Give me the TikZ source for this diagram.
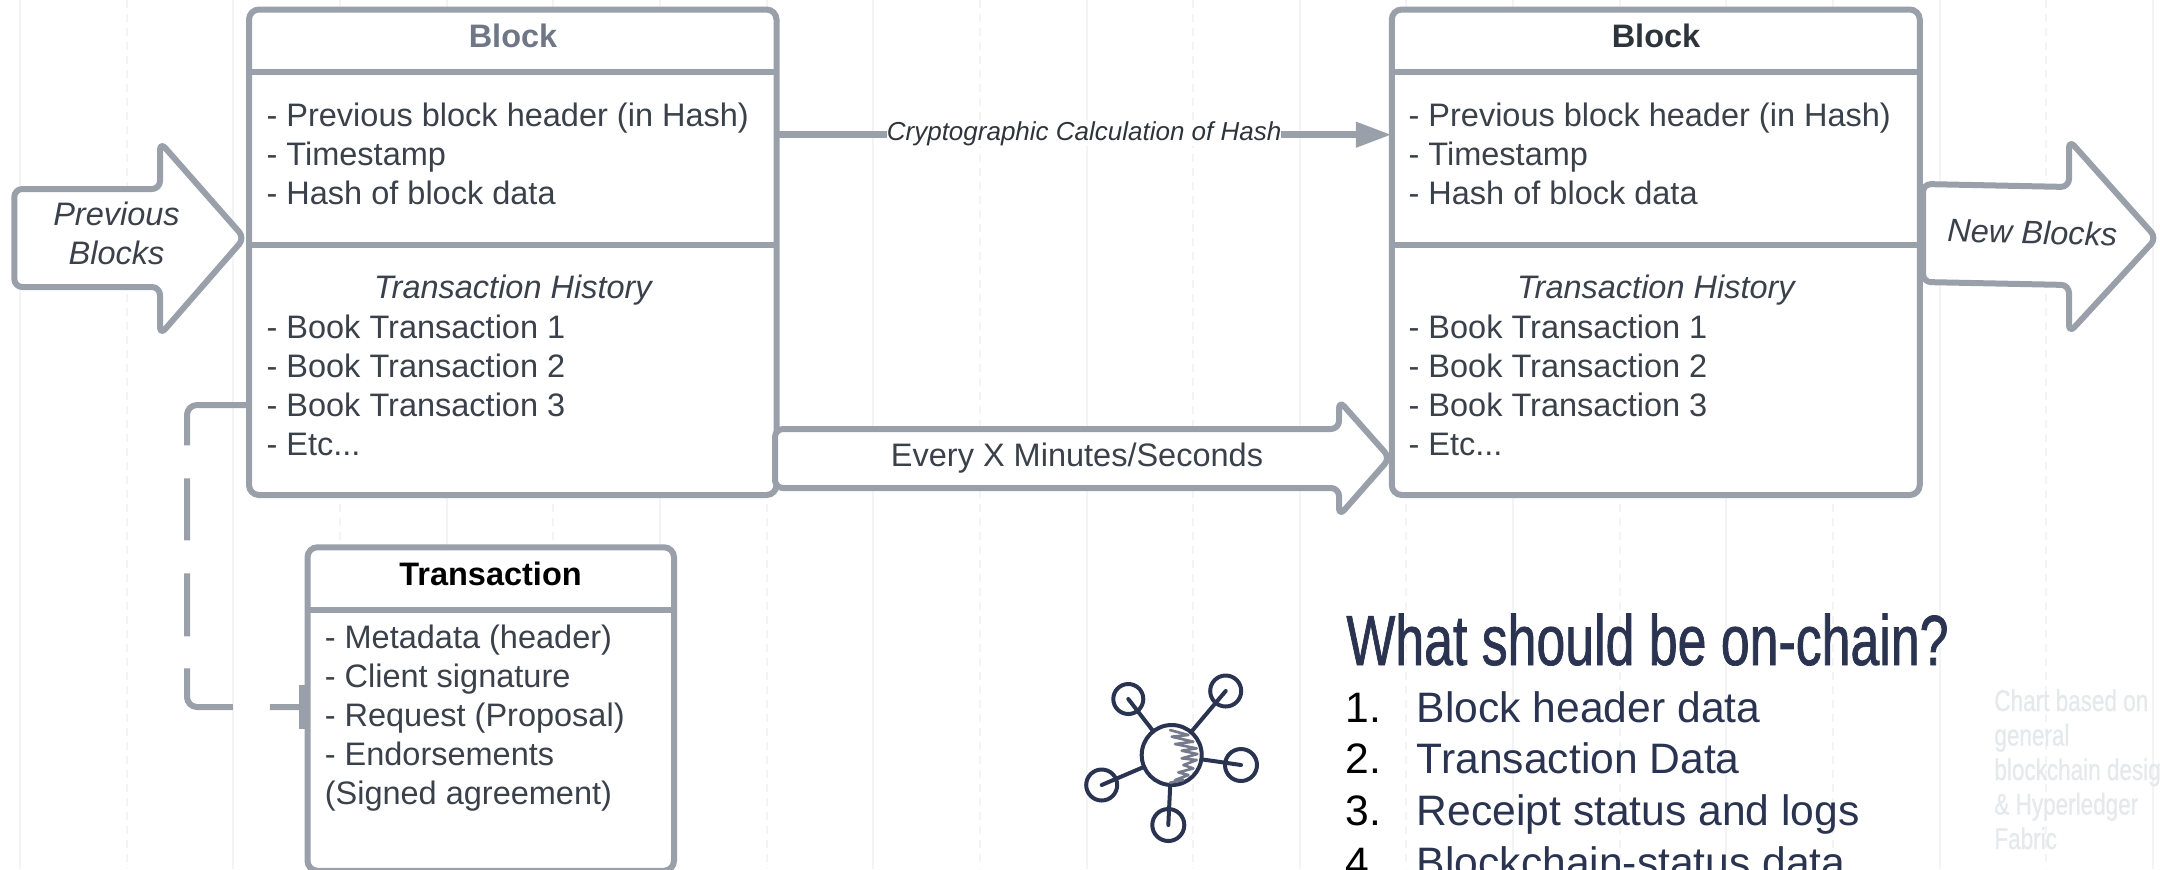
\documentclass[tikz,border=0pt]{standalone}
\usepackage{fontspec}
\setmainfont{Liberation Sans}
\newfontfamily\condfont[FakeStretch=0.75,FakeBold=0.6]{Liberation Sans}
\newfontfamily\condbold[FakeStretch=0.73,FakeBold=1]{Liberation Sans}
\usetikzlibrary{arrows.meta,calc}
\definecolor{strokegray}{HTML}{9AA0AA}
\definecolor{inkgray}{HTML}{3A414A}
\definecolor{fadedtitle}{HTML}{6F7686}
\definecolor{navyink}{HTML}{2A3450}
\definecolor{gridline}{HTML}{F3F4F6}
\definecolor{notegray}{HTML}{E6E8EB}
\tikzset{
  x=0.5pt,y=-0.5pt,
  gridsolid/.style={draw=gridline,line width=1pt},
  griddash/.style={draw=gridline,line width=1pt,dash pattern=on 4pt off 3pt},
  box/.style={draw=strokegray,fill=white,line width=3pt,rounded corners=5pt,inner sep=0pt,outer sep=0pt},
  rule/.style={draw=strokegray,line width=3pt},
  bigarrow/.style={draw=strokegray,fill=white,line width=3pt,rounded corners=4pt,line join=round},
  body/.style={font=\fontsize{16.25}{19.5}\selectfont,text=inkgray,inner sep=0pt,outer sep=0pt},
  listing/.style={body,anchor=north west,align=left},
  heading/.style={font=\fontsize{16.25}{19.5}\selectfont\bfseries,inner sep=0pt,outer sep=0pt,anchor=base},
  centered/.style={body,anchor=base},
  bullet/.style={font=\fontsize{21.3}{25.6}\selectfont,inner sep=0pt,anchor=base west},
  iconline/.style={draw=navyink,line width=2pt,line cap=round,line join=round},
  sat/.style={circle,iconline,fill=none,minimum size=15.5pt,inner sep=0pt,outer sep=0pt},
}
\begin{document}
\begin{tikzpicture}
\fill[white] (0,0) rectangle (2160,869);
\useasboundingbox (0,0) rectangle (2160,869);
\clip (0,0) rectangle (2160,869);
% grid
\foreach \k in {0,2,...,20} \draw[gridsolid] ({20+106.65*\k},0) -- ({20+106.65*\k},869);
\foreach \k in {1,3,...,19} \draw[griddash] ({20+106.65*\k},0) -- ({20+106.65*\k},869);
% blocks
\node[box,minimum width=263.75pt,minimum height=242.75pt] (blockA) at (512.75,252.25) {};
\node[box,minimum width=264pt,minimum height=242.75pt] (blockB) at (1655.75,252.25) {};
\coordinate (headY) at (0,72);
\coordinate (midY) at (0,244.5);
\draw[rule] (blockA.west |- headY) -- (blockA.east |- headY);
\draw[rule] (blockA.west |- midY) -- (blockA.east |- midY);
\draw[rule] (blockB.west |- headY) -- (blockB.east |- headY);
\draw[rule] (blockB.west |- midY) -- (blockB.east |- midY);
\node[heading,text=fadedtitle] (titleA) at (513,47.5) {Block};
\node[heading,text=inkgray!80!black] (titleB) at (1656,47.5) {Block};
\node[listing] (headA) at (266.6,98.9) {\strut- Previous block header (in Hash)\\- Timestamp\\- Hash of block data};
\node[listing] (headB) at (1408.6,98.9) {\strut- Previous block header (in Hash)\\- Timestamp\\- Hash of block data};
\node[centered] (histA) at (513,298.5) {\itshape Transaction History};
\node[centered] (histB) at (1656,298.5) {\itshape Transaction History};
\node[listing] (bookA) at (266.6,311) {\strut- Book Transaction 1\\- Book Transaction 2\\- Book Transaction 3\\- Etc...};
\node[listing] (bookB) at (1408.6,311) {\strut- Book Transaction 1\\- Book Transaction 2\\- Book Transaction 3\\- Etc...};
% transaction
\node[box,minimum width=183.25pt,minimum height=161.75pt] (txn) at (490.75,709) {};
\coordinate (txnY) at (0,609.5);
\draw[rule] (txn.west |- txnY) -- (txn.east |- txnY);
\node[heading,text=black] (txnTitle) at (490.5,585.5) {Transaction};
\node[listing] (txnBody) at (324.8,621.6) {\strut- Metadata (header)\\- Client signature\\- Request (Proposal)\\- Endorsements\\(Signed agreement)};
% dashed link
\coordinate (linkTop) at (0,405);
\coordinate (linkBot) at (0,707);
\coordinate (linkX) at (187,0);
\draw[strokegray,line width=3pt,rounded corners=5pt,
  dash pattern=on 49pt off 16.5pt on 31pt off 16.5pt on 31.5pt off 16pt on 40pt off 18.5pt on 40pt off 0pt]
  (blockA.west |- linkTop) -- (linkX |- linkTop) -- (linkX |- linkBot) -- (txn.west |- linkBot);
\fill[strokegray] ($(txn.west |- linkBot)+(-4.45pt,-11pt)$) rectangle ($(txn.west |- linkBot)+(-1.45pt,11pt)$);
% hash arrow
\coordinate (hashY) at (0,134.7);
\draw[strokegray,line width=3.7pt,-{Triangle[length=18pt,width=12pt]}]
  (blockA.east |- hashY) -- (blockB.west |- hashY)
  node[pos=0.5,fill=white,inner sep=0pt,font=\fontsize{13}{15}\selectfont\itshape,text=inkgray!80!black,yshift=0.5pt] (hashLabel) {Cryptographic Calculation of Hash};
% big arrows
\draw[bigarrow] (14.3,238) -- (14.3,189) -- (160,189) -- (160,142) -- (244.5,238) -- (160,335) -- (160,287) -- (14.3,287) -- cycle;
\node[centered,align=center,anchor=base] (prevLabel1) at (116.5,225.5) {\itshape Previous};
\node[centered,align=center,anchor=base] (prevLabel2) at (116.5,264.5) {\itshape Blocks};
\draw[bigarrow] (775,458) -- (775,429) -- (1339,429) -- (1339,400.5) -- (1390,458) -- (1339,516) -- (1339,488) -- (775,488) -- cycle;
\node[centered] (everyLabel) at (1077,466) {Every X Minutes/Seconds};
\draw[bigarrow] (1923,233) -- (1923,184) -- (2069,187) -- (2069,140) -- (2156.5,238) -- (2069,333) -- (2069,285) -- (1923,282) -- cycle;
\node[centered,rotate=-1.5] (newLabel) at (2032,244) {\itshape New Blocks};
% icon
\node[circle,iconline,minimum size=30pt,inner sep=0pt,outer sep=0pt] (hub) at (1171.7,755) {};
\node[sat,minimum size=15pt] (satTL) at (1128.3,699) {};
\node[sat] (satTR) at (1225.7,691) {};
\node[sat,minimum size=16pt] (satR) at (1241,765) {};
\node[sat,minimum size=16pt] (satB) at (1168.3,825) {};
\node[sat] (satL) at (1101.7,785) {};
\draw[iconline] (hub) -- (satTL.center);
\draw[iconline] (hub) -- (satTR.center);
\draw[iconline] (hub) -- (satR.center);
\draw[iconline] (hub) -- (satB.center);
\draw[iconline] (hub) -- (satL.center);
\begin{scope}[shift={(1060,640)},x=0.1667pt,y=-0.1667pt]
\draw[navyink!65,line width=1.3pt,line join=round,line cap=round]
 (330,270) -- (385,285) -- (335,290) -- (400,305) -- (345,312) -- (410,325) -- (365,332) -- (412,342) -- (365,355) -- (410,360) -- (370,375) -- (400,385) -- (355,397) -- (385,405) -- (345,420) -- (370,420) -- (330,428);
\end{scope}
% text right
\node[font=\condbold\fontsize{35.5}{40}\selectfont,text=navyink,inner sep=0pt,anchor=base west] (question) at (1346,665) {What should be on-chain?};
\node[bullet,text=black] (n1) at (1345,722.5) {1.};
\node[bullet,text=black] (n2) at (1345,773.5) {2.};
\node[bullet,text=black] (n3) at (1345,825) {3.};
\node[bullet,text=black] (n4) at (1345,877) {4.};
\node[bullet,text=navyink] (t1) at (1416.5,722.5) {Block header data};
\node[bullet,text=navyink] (t2) at (1416.5,773.5) {Transaction Data};
\node[bullet,text=navyink] (t3) at (1416.5,825) {Receipt status and logs};
\node[bullet,text=navyink] (t4) at (1416.5,877) {Blockchain-status data};
\node[font=\condfont\fontsize{15}{17.25}\selectfont,text=notegray,inner sep=0pt,anchor=north west,align=left] (note) at (1994,686.5) {\strut Chart based on\\general\\blockchain design\\\& Hyperledger\\Fabric};
\end{tikzpicture}
\end{document}
